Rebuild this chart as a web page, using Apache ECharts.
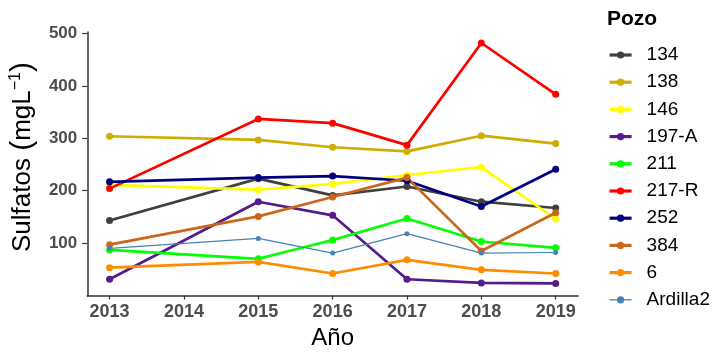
<!DOCTYPE html>
<html>
<head>
<meta charset="utf-8">
<script src="https://cdn.jsdelivr.net/npm/echarts@6/dist/echarts.min.js"></script>
<style>
  html, body { margin: 0; padding: 0; background: #fff; }
  #chart { width: 720px; height: 356px; }
</style>
</head>
<body>
<div id="chart"></div>
<script>
// years on the x axis (2014 has no measurement)
var years = [2013, 2014, 2015, 2016, 2017, 2018, 2019];
var yTicks = [100, 200, 300, 400, 500];

var pozos = ['134', '138', '146', '197-A', '211', '217-R', '252', '384', '6', 'Ardilla2'];
var colores = ['#404040', '#CDAD00', '#FFFF00', '#551A8B', '#00FF00', '#FF0000', '#000080', '#CD661D', '#FF8C00', '#4682B4'];

var v134     = [143, null, 223, 191, 208, 179, 167];
var v138     = [304, null, 297, 283, 275, 305, 290];
var v146     = [211, null, 202, 213, 230, 245, 146];
var v197A    = [31, null, 179, 153, 31, 24, 23];
var v211     = [87, null, 70, 106, 147, 103, 91];
var v217R    = [204, null, 337, 329, 287, 482, 384];
var v252     = [217, null, 225, 228, 219, 170, 241];
var v384     = [97, null, 151, 188, 225, 85, 158];
var v6       = [53, null, 64, 42, 68, 49, 42];
var vArdilla = [90, null, 109, 81, 118, 81, 82];

var valores = [v134, v138, v146, v197A, v211, v217R, v252, v384, v6, vArdilla];

var chart = echarts.init(document.getElementById('chart'));

var series = pozos.map(function (p, i) {
  var thin = p == 'Ardilla2';
  return {
    name: p,
    type: 'line',
    data: years.map(function (y, j) { return [y, valores[i][j]]; }),
    connectNulls: true,
    symbol: 'circle',
    symbolSize: thin ? 5 : 7,
    color: colores[i],
    lineStyle: { width: thin ? 1.2 : 2.7, color: colores[i] },
    itemStyle: { color: colores[i] },
    emphasis: { disabled: true },
    z: 2
  };
});

var legendData = pozos.map(function (p) {
  return { name: p, lineStyle: { width: p == 'Ardilla2' ? 1.3 : 3.2 } };
});

var font = '"Liberation Sans", Arial, sans-serif';

var option = {
  animation: false,
  textStyle: { fontFamily: font },
  grid: { left: 87, right: 142, top: 32, bottom: 60, containLabel: false },
  title: {
    text: 'Pozo',
    left: 602, top: 4,
    textStyle: { fontFamily: font, fontSize: 21, fontWeight: 'bold', color: '#000' }
  },
  legend: {
    orient: 'vertical',
    left: 603, top: 40.5,
    itemWidth: 22, itemHeight: 9, itemGap: 8.2,
    textStyle: { fontFamily: font, fontSize: 19, color: '#000', padding: [0, 0, 0, 10] },
    data: legendData
  },
  xAxis: {
    type: 'value',
    min: 2012.7, max: 2019.3,
    name: 'Año',
    nameLocation: 'middle',
    nameGap: 27,
    nameTextStyle: { fontFamily: font, fontSize: 24, color: '#000' },
    splitLine: { show: false },
    axisLine: { lineStyle: { color: '#333', width: 1.5 } },
    axisTick: { show: true, length: 4, lineStyle: { color: '#333', width: 1.2 }, customValues: years },
    axisLabel: {
      customValues: years,
      formatter: function (v) { return String(v); },
      margin: 7,
      fontFamily: font, fontSize: 18, fontWeight: 'bold', color: '#4D4D4D'
    }
  },
  yAxis: {
    type: 'value',
    min: -1, max: 503,
    name: '{a|Sulfatos }{p|(}{a|mgL}{s|−1}{p|)}',
    nameLocation: 'middle',
    nameGap: 48,
    nameRotate: 90,
    nameTextStyle: {
      padding: [0, 0, 0, 14],
      rich: {
        a: { fontFamily: font, fontSize: 26, color: '#000' },
        p: { fontFamily: font, fontSize: 30, color: '#000' },
        s: { fontFamily: font, fontSize: 16, color: '#000', verticalAlign: 'top', padding: [0, 0, 10, 0] }
      }
    },
    splitLine: { show: false },
    axisLine: { show: true, lineStyle: { color: '#333', width: 1.5 } },
    axisTick: { show: true, length: 5, lineStyle: { color: '#333', width: 1.2 }, customValues: yTicks },
    axisLabel: {
      customValues: yTicks,
      margin: 10,
      fontFamily: font, fontSize: 17, fontWeight: 'bold', color: '#4D4D4D'
    }
  },
  series: series
};

chart.setOption(option);
</script>
</body>
</html>
